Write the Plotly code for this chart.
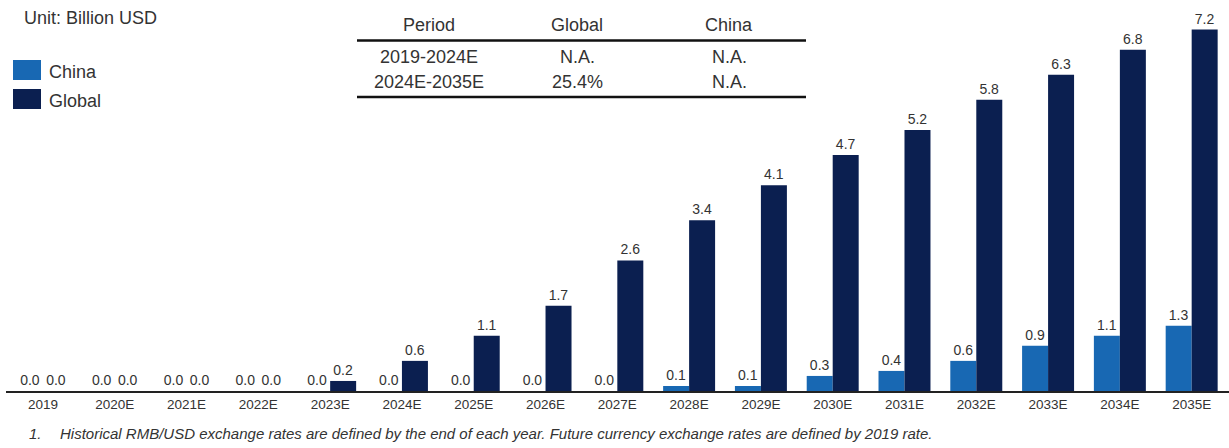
import plotly.graph_objects as go

# ---------------- data ----------------
years = ["2019", "2020E", "2021E", "2022E", "2023E", "2024E", "2025E", "2026E", "2027E",
         "2028E", "2029E", "2030E", "2031E", "2032E", "2033E", "2034E", "2035E"]
china = [0.0, 0.0, 0.0, 0.0, 0.0, 0.0, 0.0, 0.0, 0.0, 0.1, 0.1, 0.3, 0.4, 0.6, 0.9, 1.1, 1.3]
global_ = [0.0, 0.0, 0.0, 0.0, 0.2, 0.6, 1.1, 1.7, 2.6, 3.4, 4.1, 4.7, 5.2, 5.8, 6.3, 6.8, 7.2]
series_names = ["China", "Global"]
table_header = ["Period", "Global", "China"]
table_rows = [["2019-2024E", "N.A.", "N.A."],
              ["2024E-2035E", "25.4%", "N.A."]]
unit_text = "Unit: Billion USD"
footnote = "Historical RMB/USD exchange rates are defined by the end of each year. Future currency exchange rates are defined by 2019 rate."

# ---------------- style ----------------
W, H = 1229, 448
ML, MR, MT, MB = 6, 0, 0, 57
PH = H - MT - MB
PX_PER_UNIT = 50.2
C_CHINA = "#1868b3"
C_GLOBAL = "#0b1f50"
FONT = "Liberation Sans, Arial, sans-serif"
TXT = "#333333"


def py(y):
    """pixel y (from top) -> paper y"""
    return (H - MB - y) / PH


def px(x):
    return (x - ML) / (W - ML - MR)


fig = go.Figure()
for name, vals, col in [(series_names[0], china, C_CHINA), (series_names[1], global_, C_GLOBAL)]:
    fig.add_trace(go.Bar(
        x=years, y=vals, name=name, marker=dict(color=col, line=dict(width=0)),
        text=[f"{v:.1f}" for v in vals], textposition="outside", cliponaxis=False,
        textfont=dict(size=14, color=TXT, family=FONT), showlegend=False,
    ))

shapes = []
annotations = []

# unit text
annotations.append(dict(x=px(22), y=py(18), xref="paper", yref="paper", text=unit_text,
                        showarrow=False, xanchor="left", yanchor="middle",
                        font=dict(size=18, color=TXT, family=FONT)))

# manual legend
for i, (name, col) in enumerate([(series_names[0], C_CHINA), (series_names[1], C_GLOBAL)]):
    yc = 70 + i * 29
    shapes.append(dict(type="rect", xref="paper", yref="paper",
                       x0=px(13), x1=px(41), y0=py(yc - 10), y1=py(yc + 10),
                       fillcolor=col, line=dict(width=0)))
    annotations.append(dict(x=px(47), y=py(yc + 1.5), xref="paper", yref="paper", text=name,
                            showarrow=False, xanchor="left", yanchor="middle",
                            font=dict(size=18, color=TXT, family=FONT)))

# CAGR table
col_x = [429, 577, 729]
row_y = [57, 82]
for j, h in enumerate(table_header):
    annotations.append(dict(x=px(col_x[j]), y=py(25), xref="paper", yref="paper", text=h,
                            showarrow=False, xanchor="center", yanchor="middle",
                            font=dict(size=18, color=TXT, family=FONT)))
for i, row in enumerate(table_rows):
    for j, cell in enumerate(row):
        annotations.append(dict(x=px(col_x[j]), y=py(row_y[i]), xref="paper", yref="paper",
                                text=cell, showarrow=False, xanchor="center", yanchor="middle",
                                font=dict(size=18, color=TXT, family=FONT)))
for yy in (40.5, 97):
    shapes.append(dict(type="line", xref="paper", yref="paper", x0=px(357), x1=px(806),
                       y0=py(yy), y1=py(yy), line=dict(color="#111111", width=2.5)))

# footnote
annotations.append(dict(x=px(27), y=py(433), xref="paper", yref="paper", text="<i>1.</i>",
                        showarrow=False, xanchor="left", yanchor="middle",
                        font=dict(size=15, color=TXT, family=FONT)))
annotations.append(dict(x=px(58), y=py(433), xref="paper", yref="paper", text=f"<i>{footnote}</i>",
                        showarrow=False, xanchor="left", yanchor="middle",
                        font=dict(size=15, color=TXT, family=FONT)))

fig.update_layout(
    width=W, height=H,
    margin=dict(l=ML, r=MR, t=MT, b=MB),
    paper_bgcolor="white", plot_bgcolor="white",
    barmode="group", bargap=0.276, bargroupgap=0,
    font=dict(family=FONT, color=TXT),
    xaxis=dict(type="category", range=[-0.515, 16.52], showgrid=False, zeroline=False,
               showline=True, linecolor="#222222", linewidth=2, ticks="",
               tickfont=dict(size=13.5, color=TXT, family=FONT), fixedrange=True),
    yaxis=dict(range=[0, PH / PX_PER_UNIT], visible=False, showgrid=False, zeroline=False,
               fixedrange=True),
    shapes=shapes, annotations=annotations,
)

fig.write_html("out.html")
